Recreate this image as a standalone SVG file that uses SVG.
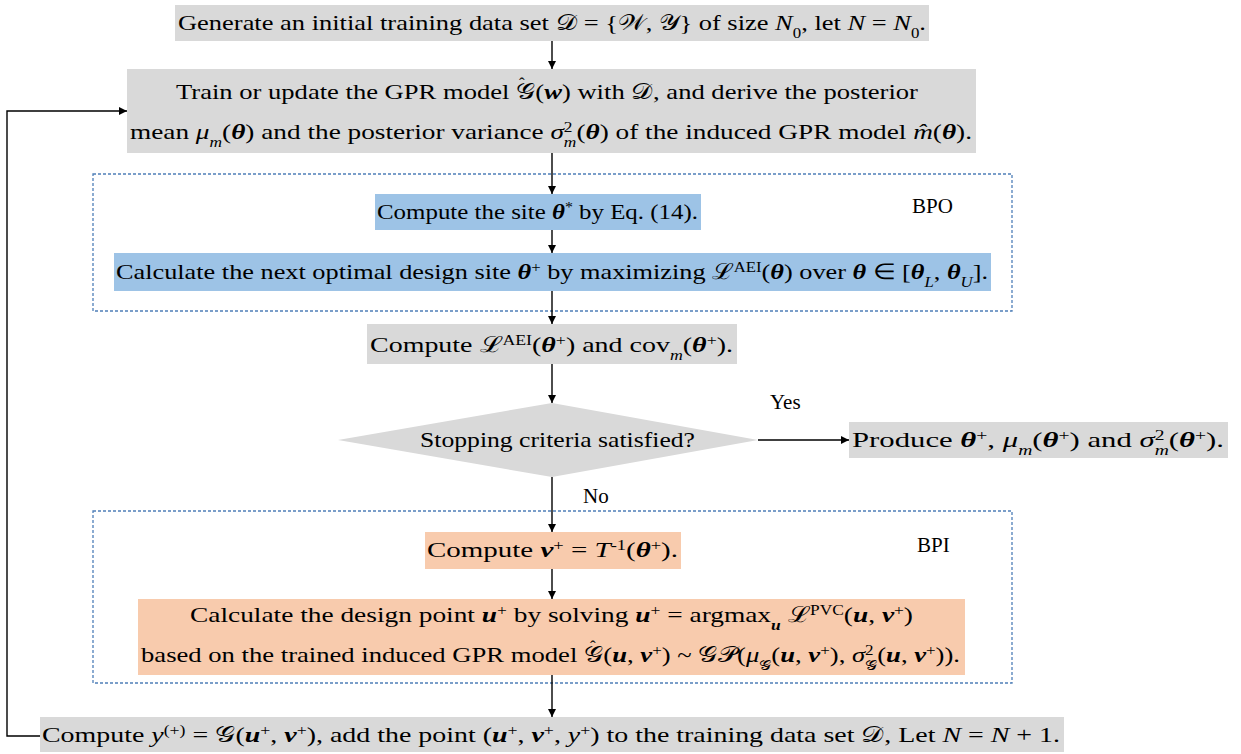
<svg xmlns="http://www.w3.org/2000/svg" width="1241" height="754" viewBox="0 0 1241 754">
<defs>
<marker id="ah" viewBox="0 0 10 10" refX="10" refY="5" markerWidth="8" markerHeight="8" markerUnits="userSpaceOnUse" orient="auto">
<path d="M0,0 L10,5 L0,10 z" fill="#000"/>
</marker>
<style>
text{font-family:'Liberation Serif','Times New Roman',Times,serif}
.t{font-size:22px;fill:#000}
.lbl{font-size:21px;fill:#000}
.b{font-weight:bold;font-style:italic}
.i{font-style:italic}
.sup{font-size:14px;baseline-shift:super}
.sub{font-size:14px;baseline-shift:sub}
.hat{font-size:17px}
.grey{fill:#d9d9d9}
.blue{fill:#9dc3e6}
.orange{fill:#f8cbad}
.dash{fill:none;stroke:#4f7fb8;stroke-width:1.3;stroke-dasharray:3,2}
.c{fill:none;stroke:#000;stroke-width:1.4}
</style>
</defs>
<rect width="1241" height="754" fill="#fff"/>

<g id="bpo-frame"><rect class="dash" x="93" y="174" width="919" height="137"/><text class="lbl" x="912" y="213">BPO</text></g>
<g id="bpi-frame"><rect class="dash" x="93" y="511" width="919" height="172"/><text class="lbl" x="917" y="552">BPI</text></g>

<g id="connectors">
<line class="c" x1="552" y1="41" x2="552" y2="69" marker-end="url(#ah)"/>
<line class="c" x1="552" y1="153" x2="552" y2="194" marker-end="url(#ah)"/>
<line class="c" x1="552" y1="230" x2="552" y2="253" marker-end="url(#ah)"/>
<line class="c" x1="552" y1="291" x2="552" y2="324" marker-end="url(#ah)"/>
<line class="c" x1="552" y1="364" x2="552" y2="403" marker-end="url(#ah)"/>
<line class="c" x1="758" y1="440" x2="849" y2="440" marker-end="url(#ah)"/>
<line class="c" x1="552" y1="477" x2="552" y2="532" marker-end="url(#ah)"/>
<line class="c" x1="552" y1="569" x2="552" y2="599" marker-end="url(#ah)"/>
<line class="c" x1="552" y1="675" x2="552" y2="717" marker-end="url(#ah)"/>
<polyline class="c" points="40,736 7,736 7,111 127,111" marker-end="url(#ah)"/>
<text class="lbl" x="770" y="409">Yes</text>
<text class="lbl" x="583" y="503">No</text>
</g>

<g id="n1"><rect class="grey" x="175" y="5" width="754" height="36"/>
<text class="t" x="178" y="30" textLength="748" lengthAdjust="spacingAndGlyphs">Generate an initial training data set 𝒟 = {𝒲, 𝒴} of size <tspan class="i">N</tspan><tspan class="sub">0</tspan>, let <tspan class="i">N</tspan> = <tspan class="i">N</tspan><tspan class="sub">0</tspan>.</text></g>

<g id="n2"><rect class="grey" x="127" y="69" width="849" height="84"/>
<text class="t" x="176" y="99" textLength="742" lengthAdjust="spacingAndGlyphs">Train or update the GPR model 𝒢(<tspan class="b">w</tspan>) with 𝒟, and derive the posterior</text>
<text class="t hat" x="519" y="89">ˆ</text>
<text class="t" x="130" y="139" textLength="842" lengthAdjust="spacingAndGlyphs">mean <tspan class="i">μ</tspan><tspan class="sub i">m</tspan>(<tspan class="b">θ</tspan>) and the posterior variance <tspan class="i">σ</tspan><tspan class="sup">2</tspan><tspan class="sub i" dx="-7">m</tspan>(<tspan class="b">θ</tspan>) of the induced GPR model <tspan class="i">m̂</tspan>(<tspan class="b">θ</tspan>).</text></g>

<g id="n3"><rect class="blue" x="375" y="194" width="326" height="36"/>
<text class="t" x="377" y="219" textLength="321" lengthAdjust="spacingAndGlyphs">Compute the site <tspan class="b">θ</tspan><tspan class="sup">*</tspan> by Eq. (14).</text></g>

<g id="n4"><rect class="blue" x="114" y="253" width="877" height="38"/>
<text class="t" x="116" y="279" textLength="872" lengthAdjust="spacingAndGlyphs">Calculate the next optimal design site <tspan class="b">θ</tspan><tspan class="sup">+</tspan> by maximizing ℒ<tspan class="sup">AEI</tspan>(<tspan class="b">θ</tspan>) over <tspan class="b">θ</tspan> ∈ [<tspan class="b">θ</tspan><tspan class="sub i">L</tspan>, <tspan class="b">θ</tspan><tspan class="sub i">U</tspan>].</text></g>

<g id="n5"><rect class="grey" x="367" y="324" width="370" height="40"/>
<text class="t" x="370" y="352" textLength="363" lengthAdjust="spacingAndGlyphs">Compute ℒ<tspan class="sup">AEI</tspan>(<tspan class="b">θ</tspan><tspan class="sup">+</tspan>) and cov<tspan class="sub i">m</tspan>(<tspan class="b">θ</tspan><tspan class="sup">+</tspan>).</text></g>

<g id="n6"><polygon class="grey" points="338,440 552,403 758,440 552,477"/>
<text class="t" x="420" y="447" textLength="275" lengthAdjust="spacingAndGlyphs">Stopping criteria satisfied?</text></g>

<g id="n7"><rect class="grey" x="849" y="422" width="379" height="36"/>
<text class="t" x="852" y="447" textLength="372" lengthAdjust="spacingAndGlyphs">Produce  <tspan class="b">θ</tspan><tspan class="sup">+</tspan>, <tspan class="i">μ</tspan><tspan class="sub i">m</tspan>(<tspan class="b">θ</tspan><tspan class="sup">+</tspan>)  and <tspan class="i">σ</tspan><tspan class="sup">2</tspan><tspan class="sub i" dx="-7">m</tspan>(<tspan class="b">θ</tspan><tspan class="sup">+</tspan>).</text></g>

<g id="n8"><rect class="orange" x="425" y="532" width="256" height="37"/>
<text class="t" x="427" y="557" textLength="251" lengthAdjust="spacingAndGlyphs">Compute <tspan class="b">v</tspan><tspan class="sup">+</tspan> = <tspan class="i">T</tspan><tspan class="sup">-1</tspan>(<tspan class="b">θ</tspan><tspan class="sup">+</tspan>).</text></g>

<g id="n9"><rect class="orange" x="138" y="599" width="827" height="76"/>
<text class="t" x="190" y="622" textLength="723" lengthAdjust="spacingAndGlyphs">Calculate the design point <tspan class="b">u</tspan><tspan class="sup">+</tspan> by solving <tspan class="b">u</tspan><tspan class="sup">+</tspan> = argmax<tspan class="sub b">u</tspan> ℒ<tspan class="sup">PVC</tspan>(<tspan class="b">u</tspan>, <tspan class="b">v</tspan><tspan class="sup">+</tspan>)</text>
<text class="t" x="141" y="662" textLength="819" lengthAdjust="spacingAndGlyphs">based on the trained induced GPR model 𝒢(<tspan class="b">u</tspan>, <tspan class="b">v</tspan><tspan class="sup">+</tspan>) ~ 𝒢𝒫(<tspan class="i">μ</tspan><tspan class="sub">𝒢</tspan>(<tspan class="b">u</tspan>, <tspan class="b">v</tspan><tspan class="sup">+</tspan>), <tspan class="i">σ</tspan><tspan class="sup">2</tspan><tspan class="sub" dx="-7">𝒢</tspan>(<tspan class="b">u</tspan>, <tspan class="b">v</tspan><tspan class="sup">+</tspan>)).</text>
<text class="t hat" x="590" y="652">ˆ</text></g>

<g id="n10"><rect class="grey" x="40" y="717" width="1024" height="35"/>
<text class="t" x="42" y="742" textLength="1018" lengthAdjust="spacingAndGlyphs">Compute <tspan class="i">y</tspan><tspan class="sup">(+)</tspan> = 𝒢(<tspan class="b">u</tspan><tspan class="sup">+</tspan>, <tspan class="b">v</tspan><tspan class="sup">+</tspan>), add the point (<tspan class="b">u</tspan><tspan class="sup">+</tspan>, <tspan class="b">v</tspan><tspan class="sup">+</tspan>, <tspan class="i">y</tspan><tspan class="sup">+</tspan>) to the training data set 𝒟, Let <tspan class="i">N</tspan> = <tspan class="i">N</tspan> + 1.</text></g>
</svg>
